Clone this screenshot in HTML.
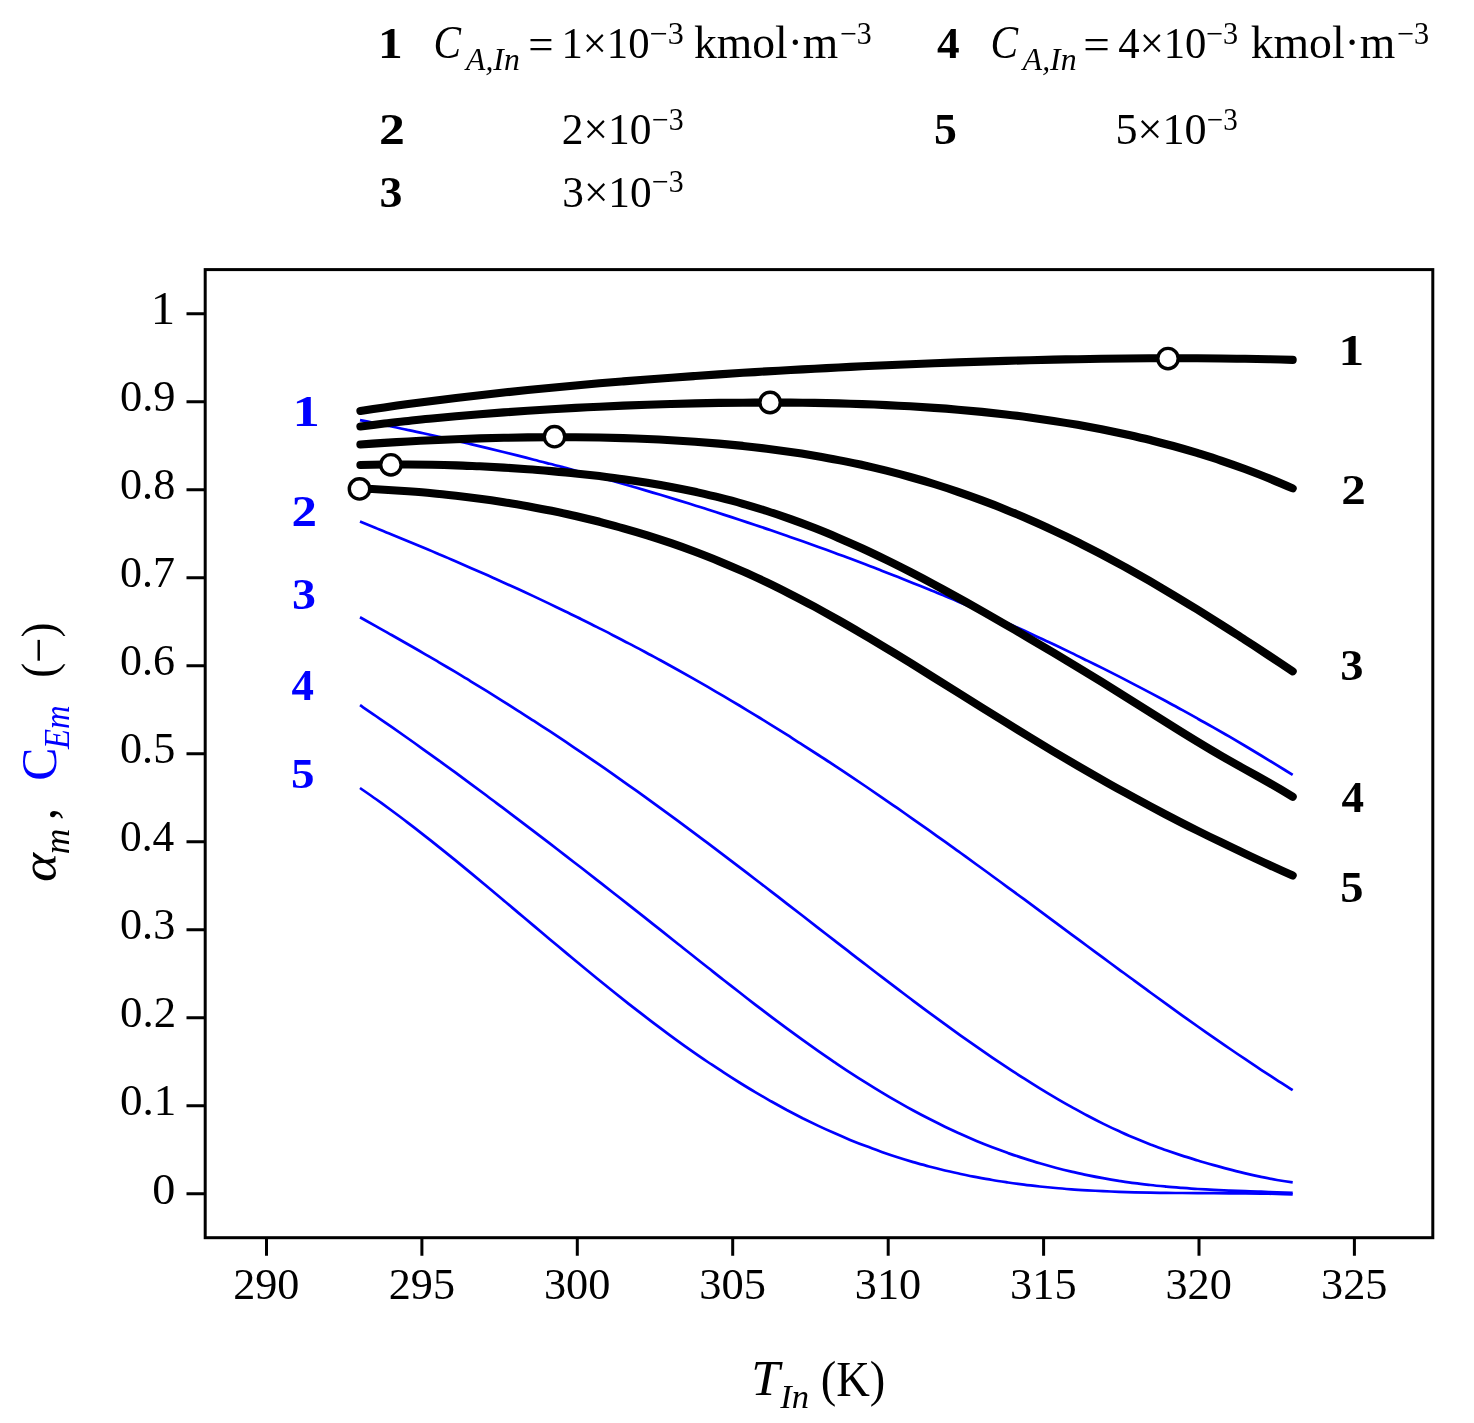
<!DOCTYPE html>
<html lang="en"><head><meta charset="utf-8"><title>Figure</title>
<style>html,body{margin:0;padding:0;background:#fff}svg{display:block}text{font-family:"Liberation Serif", serif;fill:#000}.b{font-weight:bold}.i{font-style:italic}.bl{fill:#0000ff}</style>
</head><body>
<svg width="1474" height="1423" viewBox="0 0 1474 1423">
<rect x="0" y="0" width="1474" height="1423" fill="#fff"/>
<g fill="none" stroke="#0000ff" stroke-width="2.7" stroke-linecap="butt" stroke-linejoin="round">
<path d="M360.0 420.1C365.3 421.1 370.5 422.2 375.8 423.2C381.1 424.3 386.3 425.4 391.6 426.5C396.9 427.6 402.2 428.7 407.4 429.9C412.7 431.0 418.0 432.1 423.2 433.3C428.5 434.5 433.8 435.6 439.0 436.8C444.3 438.0 449.6 439.2 454.9 440.4C460.1 441.6 465.4 442.9 470.7 444.1C475.9 445.3 481.2 446.6 486.5 447.9C491.7 449.1 497.0 450.4 502.3 451.7C507.5 453.0 512.8 454.3 518.1 455.6C523.4 457.0 528.6 458.3 533.9 459.7C539.2 461.0 544.4 462.4 549.7 463.8C555.0 465.1 560.2 466.5 565.5 467.9C570.8 469.3 576.0 470.8 581.3 472.2C586.6 473.6 591.9 475.1 597.1 476.6C602.4 478.0 607.7 479.5 612.9 481.0C618.2 482.5 623.5 484.0 628.7 485.5C634.0 487.0 639.3 488.6 644.6 490.1C649.8 491.7 655.1 493.3 660.4 494.8C665.6 496.4 670.9 498.0 676.2 499.6C681.4 501.2 686.7 502.9 692.0 504.5C697.2 506.2 702.5 507.8 707.8 509.5C713.1 511.2 718.3 512.9 723.6 514.6C728.9 516.3 734.1 518.0 739.4 519.7C744.7 521.5 749.9 523.2 755.2 525.0C760.5 526.7 765.8 528.5 771.0 530.3C776.3 532.1 781.6 533.9 786.8 535.8C792.1 537.6 797.4 539.5 802.6 541.3C807.9 543.2 813.2 545.1 818.4 547.0C823.7 548.9 829.0 550.8 834.3 552.7C839.5 554.7 844.8 556.6 850.1 558.6C855.3 560.6 860.6 562.6 865.9 564.6C871.1 566.6 876.4 568.6 881.7 570.7C886.9 572.7 892.2 574.8 897.5 576.8C902.8 578.9 908.0 581.0 913.3 583.2C918.6 585.3 923.8 587.4 929.1 589.6C934.4 591.7 939.6 593.9 944.9 596.1C950.2 598.3 955.5 600.5 960.7 602.8C966.0 605.0 971.3 607.3 976.5 609.5C981.8 611.8 987.1 614.1 992.3 616.4C997.6 618.8 1002.9 621.1 1008.1 623.5C1013.4 625.8 1018.7 628.2 1024.0 630.6C1029.2 633.0 1034.5 635.5 1039.8 637.9C1045.0 640.4 1050.3 642.8 1055.6 645.3C1060.8 647.8 1066.1 650.3 1071.4 652.9C1076.7 655.4 1081.9 658.0 1087.2 660.6C1092.5 663.2 1097.7 665.8 1103.0 668.4C1108.3 671.1 1113.5 673.7 1118.8 676.4C1124.1 679.1 1129.3 681.8 1134.6 684.6C1139.9 687.3 1145.2 690.1 1150.4 692.9C1155.7 695.7 1161.0 698.5 1166.2 701.3C1171.5 704.2 1176.8 707.0 1182.0 709.9C1187.3 712.8 1192.6 715.7 1197.8 718.7C1203.1 721.6 1208.4 724.6 1213.7 727.6C1218.9 730.6 1224.2 733.7 1229.5 736.7C1234.7 739.8 1240.0 742.9 1245.3 746.0C1250.5 749.1 1255.8 752.3 1261.1 755.5C1266.4 758.7 1271.6 761.9 1276.9 765.1C1282.2 768.4 1287.4 771.6 1292.7 774.9"/>
<path d="M360.0 521.5C365.3 523.6 370.5 525.8 375.8 527.9C381.1 530.1 386.3 532.3 391.6 534.4C396.9 536.6 402.2 538.8 407.4 541.0C412.7 543.2 418.0 545.4 423.2 547.6C428.5 549.8 433.8 552.0 439.0 554.3C444.3 556.5 449.6 558.7 454.9 561.0C460.1 563.3 465.4 565.6 470.7 567.9C475.9 570.2 481.2 572.5 486.5 574.8C491.7 577.2 497.0 579.5 502.3 581.9C507.5 584.3 512.8 586.7 518.1 589.1C523.4 591.5 528.6 593.9 533.9 596.4C539.2 598.9 544.4 601.4 549.7 603.9C555.0 606.4 560.2 608.9 565.5 611.5C570.8 614.0 576.0 616.6 581.3 619.2C586.6 621.8 591.9 624.4 597.1 627.1C602.4 629.8 607.7 632.4 612.9 635.2C618.2 637.9 623.5 640.6 628.7 643.4C634.0 646.1 639.3 648.9 644.6 651.7C649.8 654.6 655.1 657.4 660.4 660.3C665.6 663.2 670.9 666.1 676.2 669.0C681.4 671.9 686.7 674.9 692.0 677.9C697.2 680.9 702.5 683.9 707.8 686.9C713.1 690.0 718.3 693.1 723.6 696.2C728.9 699.3 734.1 702.4 739.4 705.5C744.7 708.7 749.9 711.9 755.2 715.1C760.5 718.3 765.8 721.6 771.0 724.8C776.3 728.1 781.6 731.4 786.8 734.7C792.1 738.1 797.4 741.4 802.6 744.8C807.9 748.2 813.2 751.6 818.4 755.0C823.7 758.4 829.0 761.9 834.3 765.4C839.5 768.8 844.8 772.3 850.1 775.9C855.3 779.4 860.6 782.9 865.9 786.5C871.1 790.1 876.4 793.7 881.7 797.3C886.9 800.9 892.2 804.6 897.5 808.2C902.8 811.9 908.0 815.6 913.3 819.3C918.6 823.0 923.8 826.7 929.1 830.4C934.4 834.2 939.6 837.9 944.9 841.7C950.2 845.5 955.5 849.2 960.7 853.0C966.0 856.8 971.3 860.7 976.5 864.5C981.8 868.3 987.1 872.1 992.3 876.0C997.6 879.8 1002.9 883.7 1008.1 887.6C1013.4 891.4 1018.7 895.3 1024.0 899.2C1029.2 903.1 1034.5 907.0 1039.8 910.9C1045.0 914.8 1050.3 918.7 1055.6 922.6C1060.8 926.5 1066.1 930.4 1071.4 934.3C1076.7 938.2 1081.9 942.1 1087.2 946.0C1092.5 949.9 1097.7 953.8 1103.0 957.7C1108.3 961.6 1113.5 965.4 1118.8 969.3C1124.1 973.2 1129.3 977.1 1134.6 980.9C1139.9 984.8 1145.2 988.6 1150.4 992.5C1155.7 996.3 1161.0 1000.1 1166.2 1003.9C1171.5 1007.7 1176.8 1011.5 1182.0 1015.3C1187.3 1019.0 1192.6 1022.8 1197.8 1026.5C1203.1 1030.2 1208.4 1033.9 1213.7 1037.6C1218.9 1041.2 1224.2 1044.9 1229.5 1048.5C1234.7 1052.1 1240.0 1055.7 1245.3 1059.2C1250.5 1062.8 1255.8 1066.3 1261.1 1069.8C1266.4 1073.3 1271.6 1076.7 1276.9 1080.1C1282.2 1083.5 1287.4 1086.9 1292.7 1090.2"/>
<path d="M360.0 617.3C365.3 620.2 370.5 623.1 375.8 626.1C381.1 629.0 386.3 632.0 391.6 635.0C396.9 638.0 402.2 641.0 407.4 644.0C412.7 647.0 418.0 650.0 423.2 653.1C428.5 656.2 433.8 659.2 439.0 662.3C444.3 665.4 449.6 668.6 454.9 671.7C460.1 674.9 465.4 678.0 470.7 681.3C475.9 684.5 481.2 687.7 486.5 690.9C491.7 694.2 497.0 697.5 502.3 700.8C507.5 704.1 512.8 707.4 518.1 710.8C523.4 714.1 528.6 717.5 533.9 720.9C539.2 724.3 544.4 727.8 549.7 731.2C555.0 734.7 560.2 738.2 565.5 741.7C570.8 745.3 576.0 748.8 581.3 752.4C586.6 756.0 591.9 759.6 597.1 763.2C602.4 766.8 607.7 770.5 612.9 774.2C618.2 777.9 623.5 781.6 628.7 785.3C634.0 789.1 639.3 792.8 644.6 796.6C649.8 800.4 655.1 804.2 660.4 808.1C665.6 811.9 670.9 815.7 676.2 819.6C681.4 823.5 686.7 827.4 692.0 831.3C697.2 835.2 702.5 839.2 707.8 843.1C713.1 847.1 718.3 851.1 723.6 855.1C728.9 859.1 734.1 863.1 739.4 867.1C744.7 871.1 749.9 875.2 755.2 879.2C760.5 883.2 765.8 887.3 771.0 891.4C776.3 895.4 781.6 899.5 786.8 903.6C792.1 907.7 797.4 911.8 802.6 915.8C807.9 919.9 813.2 924.0 818.4 928.1C823.7 932.2 829.0 936.3 834.3 940.4C839.5 944.5 844.8 948.5 850.1 952.6C855.3 956.7 860.6 960.7 865.9 964.8C871.1 968.8 876.4 972.9 881.7 976.9C886.9 980.9 892.2 984.9 897.5 988.9C902.8 992.9 908.0 996.9 913.3 1000.8C918.6 1004.8 923.8 1008.7 929.1 1012.6C934.4 1016.5 939.6 1020.3 944.9 1024.2C950.2 1028.0 955.5 1031.8 960.7 1035.6C966.0 1039.3 971.3 1043.0 976.5 1046.7C981.8 1050.4 987.1 1054.0 992.3 1057.6C997.6 1061.2 1002.9 1064.7 1008.1 1068.2C1013.4 1071.6 1018.7 1075.1 1024.0 1078.4C1029.2 1081.8 1034.5 1085.1 1039.8 1088.3C1045.0 1091.5 1050.3 1094.7 1055.6 1097.8C1060.8 1100.9 1066.1 1103.9 1071.4 1106.9C1076.7 1109.8 1081.9 1112.7 1087.2 1115.5C1092.5 1118.3 1097.7 1121.0 1103.0 1123.6C1108.3 1126.2 1113.5 1128.7 1118.8 1131.1C1124.1 1133.5 1129.3 1135.9 1134.6 1138.1C1139.9 1140.3 1145.2 1142.4 1150.4 1144.5C1155.7 1146.5 1161.0 1148.4 1166.2 1150.3C1171.5 1152.1 1176.8 1153.9 1182.0 1155.6C1187.3 1157.3 1192.6 1158.9 1197.8 1160.5C1203.1 1162.1 1208.4 1163.6 1213.7 1165.1C1218.9 1166.6 1224.2 1168.0 1229.5 1169.4C1234.7 1170.8 1240.0 1172.1 1245.3 1173.4C1250.5 1174.6 1255.8 1175.8 1261.1 1176.9C1266.4 1178.0 1271.6 1179.1 1276.9 1180.0C1282.2 1180.9 1287.4 1181.7 1292.7 1182.4"/>
<path d="M360.0 705.2C365.3 708.8 370.5 712.3 375.8 716.0C381.1 719.6 386.3 723.2 391.6 726.9C396.9 730.6 402.2 734.3 407.4 738.0C412.7 741.7 418.0 745.5 423.2 749.3C428.5 753.0 433.8 756.8 439.0 760.7C444.3 764.5 449.6 768.3 454.9 772.2C460.1 776.0 465.4 779.9 470.7 783.8C475.9 787.7 481.2 791.6 486.5 795.5C491.7 799.5 497.0 803.4 502.3 807.4C507.5 811.3 512.8 815.3 518.1 819.3C523.4 823.3 528.6 827.3 533.9 831.3C539.2 835.3 544.4 839.4 549.7 843.4C555.0 847.5 560.2 851.5 565.5 855.6C570.8 859.7 576.0 863.7 581.3 867.8C586.6 871.9 591.9 876.0 597.1 880.1C602.4 884.2 607.7 888.4 612.9 892.5C618.2 896.6 623.5 900.8 628.7 904.9C634.0 909.1 639.3 913.2 644.6 917.4C649.8 921.6 655.1 925.8 660.4 929.9C665.6 934.1 670.9 938.3 676.2 942.5C681.4 946.7 686.7 950.8 692.0 955.0C697.2 959.2 702.5 963.4 707.8 967.5C713.1 971.7 718.3 975.9 723.6 980.0C728.9 984.1 734.1 988.2 739.4 992.3C744.7 996.4 749.9 1000.5 755.2 1004.6C760.5 1008.6 765.8 1012.6 771.0 1016.6C776.3 1020.6 781.6 1024.5 786.8 1028.4C792.1 1032.3 797.4 1036.1 802.6 1039.9C807.9 1043.7 813.2 1047.5 818.4 1051.2C823.7 1054.9 829.0 1058.5 834.3 1062.1C839.5 1065.6 844.8 1069.2 850.1 1072.6C855.3 1076.0 860.6 1079.4 865.9 1082.7C871.1 1086.0 876.4 1089.3 881.7 1092.4C886.9 1095.6 892.2 1098.7 897.5 1101.7C902.8 1104.7 908.0 1107.6 913.3 1110.5C918.6 1113.4 923.8 1116.1 929.1 1118.8C934.4 1121.5 939.6 1124.1 944.9 1126.7C950.2 1129.2 955.5 1131.7 960.7 1134.0C966.0 1136.4 971.3 1138.7 976.5 1140.9C981.8 1143.1 987.1 1145.2 992.3 1147.2C997.6 1149.2 1002.9 1151.2 1008.1 1153.1C1013.4 1154.9 1018.7 1156.7 1024.0 1158.4C1029.2 1160.1 1034.5 1161.8 1039.8 1163.3C1045.0 1164.8 1050.3 1166.3 1055.6 1167.7C1060.8 1169.1 1066.1 1170.4 1071.4 1171.6C1076.7 1172.8 1081.9 1174.0 1087.2 1175.1C1092.5 1176.2 1097.7 1177.2 1103.0 1178.1C1108.3 1179.1 1113.5 1180.0 1118.8 1180.8C1124.1 1181.6 1129.3 1182.4 1134.6 1183.1C1139.9 1183.8 1145.2 1184.4 1150.4 1185.0C1155.7 1185.6 1161.0 1186.1 1166.2 1186.6C1171.5 1187.1 1176.8 1187.5 1182.0 1187.9C1187.3 1188.3 1192.6 1188.7 1197.8 1189.0C1203.1 1189.3 1208.4 1189.6 1213.7 1189.9C1218.9 1190.1 1224.2 1190.4 1229.5 1190.6C1234.7 1190.8 1240.0 1191.0 1245.3 1191.2C1250.5 1191.4 1255.8 1191.6 1261.1 1191.7C1266.4 1191.9 1271.6 1192.1 1276.9 1192.3C1282.2 1192.5 1287.4 1192.7 1292.7 1192.9"/>
<path d="M360.0 788.0C365.3 791.6 370.5 795.3 375.8 799.0C381.1 802.8 386.3 806.6 391.6 810.5C396.9 814.4 402.2 818.3 407.4 822.4C412.7 826.4 418.0 830.5 423.2 834.6C428.5 838.7 433.8 842.9 439.0 847.1C444.3 851.3 449.6 855.6 454.9 859.9C460.1 864.2 465.4 868.5 470.7 872.9C475.9 877.2 481.2 881.6 486.5 886.0C491.7 890.4 497.0 894.8 502.3 899.2C507.5 903.7 512.8 908.1 518.1 912.6C523.4 917.0 528.6 921.4 533.9 925.9C539.2 930.3 544.4 934.8 549.7 939.2C555.0 943.6 560.2 948.0 565.5 952.4C570.8 956.8 576.0 961.2 581.3 965.5C586.6 969.9 591.9 974.2 597.1 978.5C602.4 982.8 607.7 987.1 612.9 991.3C618.2 995.5 623.5 999.7 628.7 1003.9C634.0 1008.0 639.3 1012.1 644.6 1016.1C649.8 1020.2 655.1 1024.2 660.4 1028.1C665.6 1032.1 670.9 1036.0 676.2 1039.8C681.4 1043.6 686.7 1047.4 692.0 1051.1C697.2 1054.8 702.5 1058.4 707.8 1062.0C713.1 1065.5 718.3 1069.0 723.6 1072.4C728.9 1075.9 734.1 1079.2 739.4 1082.5C744.7 1085.8 749.9 1089.0 755.2 1092.1C760.5 1095.2 765.8 1098.3 771.0 1101.3C776.3 1104.2 781.6 1107.1 786.8 1110.0C792.1 1112.8 797.4 1115.5 802.6 1118.2C807.9 1120.8 813.2 1123.4 818.4 1125.9C823.7 1128.4 829.0 1130.8 834.3 1133.1C839.5 1135.4 844.8 1137.7 850.1 1139.9C855.3 1142.0 860.6 1144.1 865.9 1146.1C871.1 1148.1 876.4 1150.0 881.7 1151.9C886.9 1153.7 892.2 1155.5 897.5 1157.2C902.8 1158.9 908.0 1160.5 913.3 1162.1C918.6 1163.6 923.8 1165.1 929.1 1166.5C934.4 1167.9 939.6 1169.2 944.9 1170.5C950.2 1171.7 955.5 1172.9 960.7 1174.0C966.0 1175.1 971.3 1176.2 976.5 1177.2C981.8 1178.2 987.1 1179.2 992.3 1180.0C997.6 1180.9 1002.9 1181.7 1008.1 1182.5C1013.4 1183.3 1018.7 1184.0 1024.0 1184.6C1029.2 1185.3 1034.5 1185.9 1039.8 1186.5C1045.0 1187.0 1050.3 1187.5 1055.6 1188.0C1060.8 1188.5 1066.1 1188.9 1071.4 1189.3C1076.7 1189.7 1081.9 1190.0 1087.2 1190.3C1092.5 1190.6 1097.7 1190.9 1103.0 1191.2C1108.3 1191.4 1113.5 1191.6 1118.8 1191.8C1124.1 1192.0 1129.3 1192.1 1134.6 1192.3C1139.9 1192.4 1145.2 1192.5 1150.4 1192.6C1155.7 1192.7 1161.0 1192.8 1166.2 1192.8C1171.5 1192.9 1176.8 1193.0 1182.0 1193.0C1187.3 1193.0 1192.6 1193.1 1197.8 1193.1C1203.1 1193.1 1208.4 1193.2 1213.7 1193.2C1218.9 1193.2 1224.2 1193.2 1229.5 1193.3C1234.7 1193.3 1240.0 1193.4 1245.3 1193.4C1250.5 1193.5 1255.8 1193.5 1261.1 1193.6C1266.4 1193.7 1271.6 1193.8 1276.9 1193.9C1282.2 1194.0 1287.4 1194.2 1292.7 1194.4"/>
</g>
<g fill="none" stroke="#000" stroke-width="8.1" stroke-linecap="round" stroke-linejoin="round">
<path d="M360.4 410.9C368.4 409.7 376.3 408.5 384.3 407.4C392.3 406.2 400.2 405.1 408.2 404.0C416.2 403.0 424.1 401.9 432.1 400.9C440.1 399.9 448.1 398.9 456.0 397.9C464.0 397.0 472.0 396.1 479.9 395.2C487.9 394.3 495.9 393.4 503.8 392.5C511.8 391.7 519.8 390.8 527.7 390.0C535.7 389.2 543.7 388.4 551.6 387.7C559.6 386.9 567.6 386.2 575.5 385.5C583.5 384.7 591.5 384.0 599.5 383.3C607.4 382.7 615.4 382.0 623.4 381.4C631.3 380.7 639.3 380.1 647.3 379.5C655.2 378.9 663.2 378.3 671.2 377.7C679.1 377.1 687.1 376.5 695.1 376.0C703.0 375.4 711.0 374.9 719.0 374.4C726.9 373.8 734.9 373.3 742.9 372.8C750.9 372.3 758.8 371.9 766.8 371.4C774.8 370.9 782.7 370.5 790.7 370.0C798.7 369.6 806.6 369.1 814.6 368.7C822.6 368.3 830.5 367.9 838.5 367.5C846.5 367.1 854.4 366.7 862.4 366.3C870.4 366.0 878.3 365.6 886.3 365.2C894.3 364.9 902.2 364.6 910.2 364.2C918.2 363.9 926.2 363.6 934.1 363.3C942.1 363.0 950.1 362.7 958.0 362.4C966.0 362.1 974.0 361.8 981.9 361.6C989.9 361.3 997.9 361.1 1005.8 360.9C1013.8 360.6 1021.8 360.4 1029.7 360.2C1037.7 360.0 1045.7 359.8 1053.6 359.6C1061.6 359.5 1069.6 359.3 1077.6 359.2C1085.5 359.0 1093.5 358.9 1101.5 358.8C1109.4 358.7 1117.4 358.6 1125.4 358.5C1133.3 358.4 1141.3 358.4 1149.3 358.3C1157.2 358.3 1165.2 358.2 1173.2 358.2C1181.1 358.2 1189.1 358.3 1197.1 358.3C1205.0 358.3 1213.0 358.4 1221.0 358.5C1229.0 358.5 1236.9 358.7 1244.9 358.8C1252.9 358.9 1260.8 359.1 1268.8 359.2C1276.8 359.4 1284.7 359.6 1292.7 359.9"/>
<path d="M360.4 426.5C368.4 425.5 376.3 424.5 384.3 423.6C392.3 422.6 400.2 421.8 408.2 420.9C416.2 420.1 424.1 419.2 432.1 418.5C440.1 417.7 448.1 417.0 456.0 416.2C464.0 415.5 472.0 414.9 479.9 414.2C487.9 413.6 495.9 413.0 503.8 412.4C511.8 411.8 519.8 411.2 527.7 410.7C535.7 410.2 543.7 409.7 551.6 409.2C559.6 408.7 567.6 408.3 575.5 407.9C583.5 407.4 591.5 407.0 599.5 406.7C607.4 406.3 615.4 406.0 623.4 405.6C631.3 405.3 639.3 405.0 647.3 404.7C655.2 404.5 663.2 404.2 671.2 404.0C679.1 403.8 687.1 403.6 695.1 403.4C703.0 403.2 711.0 403.1 719.0 402.9C726.9 402.8 734.9 402.7 742.9 402.7C750.9 402.6 758.8 402.6 766.8 402.6C774.8 402.6 782.7 402.6 790.7 402.6C798.7 402.7 806.6 402.8 814.6 402.9C822.6 403.0 830.5 403.2 838.5 403.4C846.5 403.6 854.4 403.8 862.4 404.1C870.4 404.4 878.3 404.7 886.3 405.1C894.3 405.5 902.2 405.9 910.2 406.3C918.2 406.8 926.2 407.3 934.1 407.9C942.1 408.4 950.1 409.0 958.0 409.7C966.0 410.4 974.0 411.1 981.9 411.9C989.9 412.7 997.9 413.6 1005.8 414.5C1013.8 415.4 1021.8 416.4 1029.7 417.5C1037.7 418.6 1045.7 419.7 1053.6 420.9C1061.6 422.1 1069.6 423.4 1077.6 424.8C1085.5 426.2 1093.5 427.7 1101.5 429.2C1109.4 430.8 1117.4 432.5 1125.4 434.2C1133.3 436.0 1141.3 437.8 1149.3 439.8C1157.2 441.8 1165.2 443.8 1173.2 446.0C1181.1 448.2 1189.1 450.5 1197.1 452.9C1205.0 455.4 1213.0 457.9 1221.0 460.6C1229.0 463.3 1236.9 466.1 1244.9 469.0C1252.9 472.0 1260.8 475.0 1268.8 478.3C1276.8 481.5 1284.7 484.9 1292.7 488.4"/>
<path d="M360.4 444.5C368.4 443.9 376.3 443.4 384.3 442.9C392.3 442.4 400.2 441.9 408.2 441.5C416.2 441.0 424.1 440.6 432.1 440.3C440.1 439.9 448.1 439.5 456.0 439.2C464.0 438.9 472.0 438.7 479.9 438.4C487.9 438.2 495.9 438.0 503.8 437.8C511.8 437.6 519.8 437.5 527.7 437.4C535.7 437.3 543.7 437.2 551.6 437.2C559.6 437.2 567.6 437.2 575.5 437.2C583.5 437.3 591.5 437.4 599.5 437.5C607.4 437.7 615.4 437.9 623.4 438.1C631.3 438.3 639.3 438.6 647.3 439.0C655.2 439.3 663.2 439.7 671.2 440.2C679.1 440.6 687.1 441.1 695.1 441.7C703.0 442.3 711.0 442.9 719.0 443.6C726.9 444.3 734.9 445.1 742.9 445.9C750.9 446.8 758.8 447.7 766.8 448.7C774.8 449.7 782.7 450.8 790.7 451.9C798.7 453.1 806.6 454.4 814.6 455.7C822.6 457.1 830.5 458.5 838.5 460.1C846.5 461.6 854.4 463.3 862.4 465.0C870.4 466.8 878.3 468.7 886.3 470.6C894.3 472.6 902.2 474.7 910.2 477.0C918.2 479.2 926.2 481.5 934.1 484.0C942.1 486.5 950.1 489.1 958.0 491.8C966.0 494.5 974.0 497.4 981.9 500.4C989.9 503.3 997.9 506.4 1005.8 509.7C1013.8 512.9 1021.8 516.3 1029.7 519.7C1037.7 523.2 1045.7 526.8 1053.6 530.6C1061.6 534.3 1069.6 538.1 1077.6 542.1C1085.5 546.1 1093.5 550.1 1101.5 554.3C1109.4 558.5 1117.4 562.8 1125.4 567.2C1133.3 571.7 1141.3 576.2 1149.3 580.8C1157.2 585.4 1165.2 590.1 1173.2 594.9C1181.1 599.6 1189.1 604.5 1197.1 609.4C1205.0 614.4 1213.0 619.4 1221.0 624.5C1229.0 629.5 1236.9 634.7 1244.9 639.8C1252.9 645.0 1260.8 650.2 1268.8 655.5C1276.8 660.8 1284.7 666.0 1292.7 671.3"/>
<path d="M360.4 465.0C368.4 464.8 376.3 464.6 384.3 464.5C392.3 464.4 400.2 464.4 408.2 464.5C416.2 464.5 424.1 464.6 432.1 464.8C440.1 464.9 448.1 465.1 456.0 465.4C464.0 465.6 472.0 466.0 479.9 466.3C487.9 466.7 495.9 467.1 503.8 467.6C511.8 468.1 519.8 468.6 527.7 469.2C535.7 469.7 543.7 470.4 551.6 471.1C559.6 471.8 567.6 472.5 575.5 473.4C583.5 474.2 591.5 475.1 599.5 476.0C607.4 477.0 615.4 478.0 623.4 479.2C631.3 480.3 639.3 481.5 647.3 482.8C655.2 484.1 663.2 485.5 671.2 487.0C679.1 488.5 687.1 490.1 695.1 491.8C703.0 493.6 711.0 495.4 719.0 497.4C726.9 499.4 734.9 501.5 742.9 503.8C750.9 506.1 758.8 508.5 766.8 511.0C774.8 513.6 782.7 516.3 790.7 519.1C798.7 521.9 806.6 524.9 814.6 528.1C822.6 531.2 830.5 534.5 838.5 537.9C846.5 541.3 854.4 544.8 862.4 548.5C870.4 552.2 878.3 556.0 886.3 559.9C894.3 563.8 902.2 567.8 910.2 571.9C918.2 576.0 926.2 580.2 934.1 584.5C942.1 588.8 950.1 593.2 958.0 597.6C966.0 602.0 974.0 606.5 981.9 611.0C989.9 615.5 997.9 620.1 1005.8 624.7C1013.8 629.3 1021.8 634.0 1029.7 638.7C1037.7 643.4 1045.7 648.1 1053.6 652.8C1061.6 657.6 1069.6 662.4 1077.6 667.2C1085.5 672.1 1093.5 676.9 1101.5 681.8C1109.4 686.8 1117.4 691.7 1125.4 696.7C1133.3 701.7 1141.3 706.7 1149.3 711.7C1157.2 716.7 1165.2 721.7 1173.2 726.7C1181.1 731.7 1189.1 736.6 1197.1 741.5C1205.0 746.3 1213.0 751.1 1221.0 755.7C1229.0 760.3 1236.9 764.8 1244.9 769.2C1252.9 773.7 1260.8 778.1 1268.8 782.6C1276.8 787.1 1284.7 791.8 1292.7 796.8"/>
<path d="M360.4 488.8C368.4 489.0 376.3 489.3 384.3 489.7C392.3 490.1 400.2 490.6 408.2 491.2C416.2 491.8 424.1 492.4 432.1 493.2C440.1 493.9 448.1 494.8 456.0 495.7C464.0 496.6 472.0 497.6 479.9 498.7C487.9 499.7 495.9 500.9 503.8 502.2C511.8 503.4 519.8 504.8 527.7 506.2C535.7 507.7 543.7 509.2 551.6 510.8C559.6 512.5 567.6 514.2 575.5 516.0C583.5 517.9 591.5 519.8 599.5 521.8C607.4 523.9 615.4 526.0 623.4 528.3C631.3 530.5 639.3 532.9 647.3 535.4C655.2 537.9 663.2 540.5 671.2 543.2C679.1 545.9 687.1 548.8 695.1 551.8C703.0 554.8 711.0 557.9 719.0 561.2C726.9 564.5 734.9 567.9 742.9 571.4C750.9 574.9 758.8 578.6 766.8 582.4C774.8 586.2 782.7 590.2 790.7 594.3C798.7 598.3 806.6 602.5 814.6 606.8C822.6 611.2 830.5 615.6 838.5 620.1C846.5 624.6 854.4 629.2 862.4 633.9C870.4 638.6 878.3 643.4 886.3 648.2C894.3 653.0 902.2 657.9 910.2 662.8C918.2 667.7 926.2 672.7 934.1 677.7C942.1 682.7 950.1 687.6 958.0 692.6C966.0 697.6 974.0 702.6 981.9 707.6C989.9 712.6 997.9 717.5 1005.8 722.4C1013.8 727.4 1021.8 732.3 1029.7 737.1C1037.7 742.0 1045.7 746.8 1053.6 751.6C1061.6 756.3 1069.6 761.0 1077.6 765.7C1085.5 770.3 1093.5 774.9 1101.5 779.4C1109.4 784.0 1117.4 788.4 1125.4 792.8C1133.3 797.2 1141.3 801.5 1149.3 805.8C1157.2 810.0 1165.2 814.2 1173.2 818.3C1181.1 822.5 1189.1 826.5 1197.1 830.5C1205.0 834.5 1213.0 838.4 1221.0 842.2C1229.0 846.1 1236.9 849.9 1244.9 853.6C1252.9 857.4 1260.8 861.1 1268.8 864.7C1276.8 868.4 1284.7 872.0 1292.7 875.5"/>
</g>
<g fill="#fff" stroke="#000" stroke-width="3.4">
<circle cx="1168.0" cy="358.6" r="10.2"/>
<circle cx="770.1" cy="402.5" r="10.2"/>
<circle cx="554.5" cy="436.7" r="10.2"/>
<circle cx="390.9" cy="464.8" r="10.2"/>
<circle cx="359.5" cy="488.9" r="10.2"/>
</g>
<g fill="none" stroke="#000" stroke-width="3">
<rect x="205.2" y="269.6" width="1227.6" height="968.1"/>
<path d="M186.5 1193.7 H205.2M186.5 1105.7 H205.2M186.5 1017.7 H205.2M186.5 929.7 H205.2M186.5 841.7 H205.2M186.5 753.7 H205.2M186.5 665.7 H205.2M186.5 577.7 H205.2M186.5 489.7 H205.2M186.5 401.7 H205.2M186.5 313.7 H205.2M266.5 1237.7 V1255.8M421.9 1237.7 V1255.8M577.3 1237.7 V1255.8M732.7 1237.7 V1255.8M888.2 1237.7 V1255.8M1043.6 1237.7 V1255.8M1199.0 1237.7 V1255.8M1354.4 1237.7 V1255.8"/>
</g>
<text transform="translate(378.1 58.0) scale(1.101 1)" font-size="44.8" class="b">1</text>
<text transform="translate(433.6 58.2) scale(0.883 1)" font-size="46.7" class="i">C</text>
<text transform="translate(466.1 70.3) scale(1.009 1)" font-size="31.4" class="i">A,In</text>
<text transform="translate(528.2 58.6) scale(1.020 1)" font-size="44.0">=</text>
<text transform="translate(561.4 57.5) scale(0.962 1)" font-size="44.4">1×10</text>
<text transform="translate(649.6 44.0) scale(1.039 1)" font-size="31.0">−3</text>
<text transform="translate(694.0 57.7) scale(1.002 1)" font-size="45.5">kmol·m</text>
<text transform="translate(840.0 44.0) scale(0.963 1)" font-size="31.0">−3</text>
<text transform="translate(378.9 143.8) scale(1.179 1)" font-size="43.9" class="b">2</text>
<text transform="translate(561.8 143.8) scale(0.991 1)" font-size="43.9">2×10</text>
<text transform="translate(651.8 129.5) scale(0.963 1)" font-size="31.0">−3</text>
<text transform="translate(379.4 207.0) scale(1.047 1)" font-size="43.8" class="b">3</text>
<text transform="translate(562.3 207.0) scale(0.975 1)" font-size="44.4">3×10</text>
<text transform="translate(651.8 192.2) scale(0.963 1)" font-size="31.0">−3</text>
<text transform="translate(937.0 58.0) scale(1.001 1)" font-size="45.2" class="b">4</text>
<text transform="translate(990.4 58.2) scale(0.886 1)" font-size="46.7" class="i">C</text>
<text transform="translate(1022.8 70.3) scale(1.011 1)" font-size="31.4" class="i">A,In</text>
<text transform="translate(1083.3 58.6) scale(1.073 1)" font-size="44.0">=</text>
<text transform="translate(1118.3 57.5) scale(0.962 1)" font-size="44.4">4×10</text>
<text transform="translate(1206.0 44.0) scale(0.975 1)" font-size="31.0">−3</text>
<text transform="translate(1250.7 57.7) scale(1.004 1)" font-size="45.5">kmol·m</text>
<text transform="translate(1397.0 44.0) scale(0.975 1)" font-size="31.0">−3</text>
<text transform="translate(933.9 143.7) scale(1.035 1)" font-size="44.2" class="b">5</text>
<text transform="translate(1115.5 143.8) scale(1.006 1)" font-size="43.9">5×10</text>
<text transform="translate(1206.8 129.5) scale(0.937 1)" font-size="31.0">−3</text>
<text transform="translate(152.2 1203.5) scale(1.021 1)" font-size="45.2">0</text>
<text transform="translate(120.0 1115.2) scale(1.006 1)" font-size="44.8">0.1</text>
<text transform="translate(120.0 1027.2) scale(0.993 1)" font-size="45.2">0.2</text>
<text transform="translate(120.0 939.2) scale(0.987 1)" font-size="44.8">0.3</text>
<text transform="translate(120.0 851.2) scale(0.960 1)" font-size="45.2">0.4</text>
<text transform="translate(120.0 763.2) scale(0.987 1)" font-size="44.8">0.5</text>
<text transform="translate(120.0 675.2) scale(0.974 1)" font-size="45.2">0.6</text>
<text transform="translate(120.0 587.2) scale(0.974 1)" font-size="45.2">0.7</text>
<text transform="translate(120.0 499.2) scale(0.987 1)" font-size="44.8">0.8</text>
<text transform="translate(120.0 411.2) scale(0.992 1)" font-size="44.8">0.9</text>
<text transform="translate(150.8 323.7) scale(1.052 1)" font-size="46.3">1</text>
<text transform="translate(233.2 1298.5) scale(0.983 1)" font-size="44.9">290</text>
<text transform="translate(388.8 1298.5) scale(0.975 1)" font-size="45.3">295</text>
<text transform="translate(543.9 1298.5) scale(0.987 1)" font-size="44.9">300</text>
<text transform="translate(699.2 1298.5) scale(0.990 1)" font-size="44.9">305</text>
<text transform="translate(854.8 1298.5) scale(0.987 1)" font-size="44.9">310</text>
<text transform="translate(1010.1 1298.5) scale(0.978 1)" font-size="45.3">315</text>
<text transform="translate(1165.4 1298.5) scale(0.987 1)" font-size="44.9">320</text>
<text transform="translate(1321.0 1298.5) scale(0.978 1)" font-size="45.3">325</text>
<text transform="translate(1338.4 365.0) scale(1.181 1)" font-size="43.5" class="b">1</text>
<text transform="translate(1341.3 504.0) scale(1.144 1)" font-size="42.9" class="b">2</text>
<text transform="translate(1340.2 679.5) scale(1.044 1)" font-size="44.5" class="b">3</text>
<text transform="translate(1341.5 811.8) scale(1.014 1)" font-size="44.5" class="b">4</text>
<text transform="translate(1340.2 901.5) scale(1.030 1)" font-size="45.1" class="b">5</text>
<text transform="translate(292.6 426.3) scale(1.241 1)" font-size="44.1" class="b bl">1</text>
<text transform="translate(291.4 525.8) scale(1.149 1)" font-size="44.4" class="b bl">2</text>
<text transform="translate(291.9 608.7) scale(1.063 1)" font-size="45.0" class="b bl">3</text>
<text transform="translate(291.5 699.5) scale(1.032 1)" font-size="43.5" class="b bl">4</text>
<text transform="translate(290.9 787.5) scale(1.096 1)" font-size="42.9" class="b bl">5</text>
<text transform="translate(751.2 1395.0) scale(1.016 1)" font-size="50.4" class="i">T</text>
<text transform="translate(780.2 1408.0) scale(0.998 1)" font-size="34.7" class="i">In</text>
<text transform="translate(820.7 1395.8) scale(0.917 1)" font-size="50.8">(K)</text>
<text transform="translate(56.0 882.1) rotate(-90) scale(1.091 1)" font-size="50.6" class="i">α</text>
<text transform="translate(69.0 854.3) rotate(-90) scale(1.005 1)" font-size="35.2" class="i">m</text>
<text transform="translate(54.8 820.2) rotate(-90) scale(1.000 1)" font-size="50.0">,</text>
<text transform="translate(55.5 780.7) rotate(-90) scale(0.997 1)" font-size="50.0" class="bl">C</text>
<text transform="translate(69.0 749.0) rotate(-90) scale(0.918 1)" font-size="35.6" class="i bl">Em</text>
<text transform="translate(55.3 677.8) rotate(-90) scale(0.904 1)" font-size="49.6">(−)</text>
</svg></body></html>
